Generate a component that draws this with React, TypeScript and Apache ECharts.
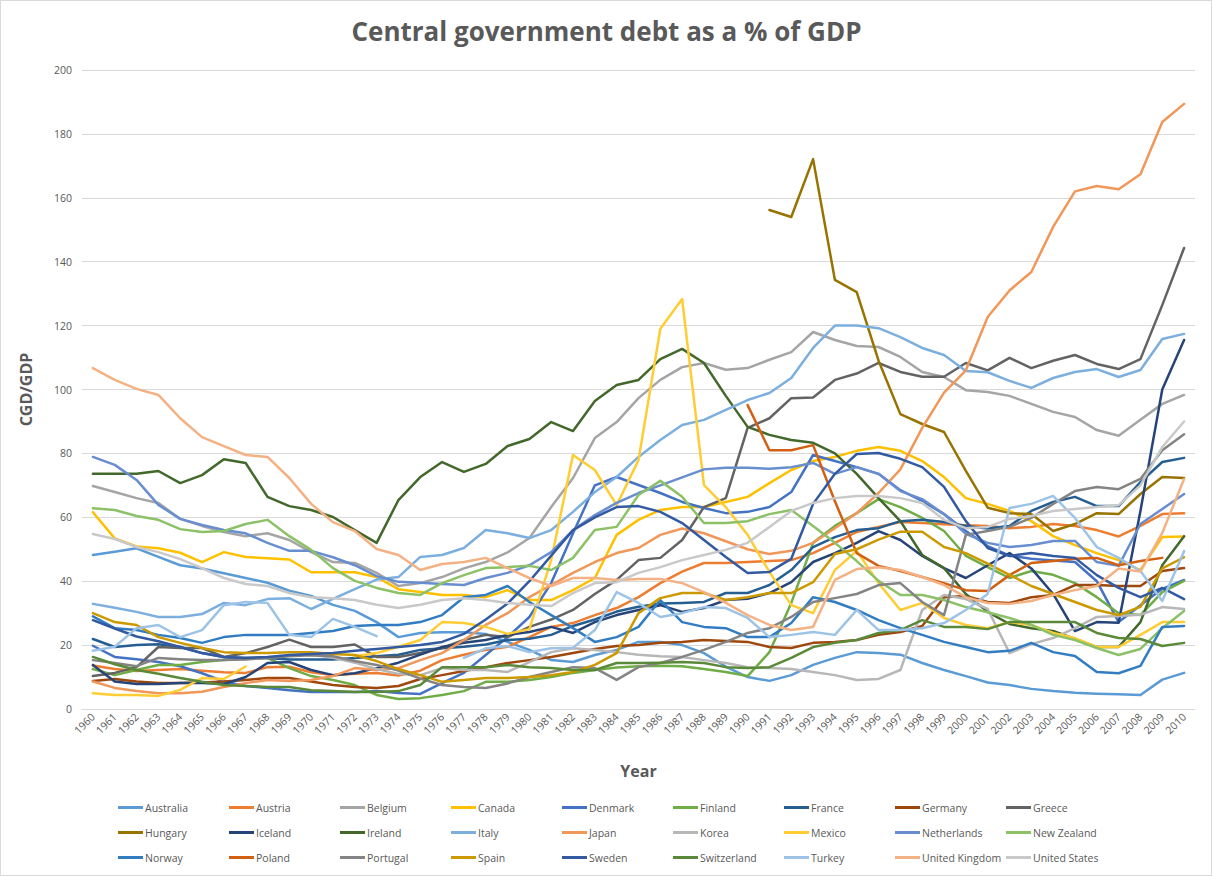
import React, { useEffect, useRef } from "react";
import * as echarts from "echarts";

const years = ["1960","1961","1962","1963","1964","1965","1966","1967","1968","1969","1970","1971","1972","1973","1974","1975","1976","1977","1978","1979","1980","1981","1982","1983","1984","1985","1986","1987","1988","1989","1990","1991","1992","1993","1994","1995","1996","1997","1998","1999","2000","2001","2002","2003","2004","2005","2006","2007","2008","2009","2010"];

const yTicks = [0, 20, 40, 60, 80, 100, 120, 140, 160, 180, 200];

const australia = [48.2,49.2,50.3,47.6,45,44,42.5,41,39.5,37,35.4,32.6,30.7,27.2,22.5,23.8,24,24,23.5,21,18.5,15.3,14.7,16.9,18.5,21,21,20,17.5,13.3,10,8.8,10.6,13.8,16,17.8,17.5,17,14.4,12.2,10.3,8.3,7.5,6.3,5.6,5.1,4.8,4.6,4.4,9.2,11.3];
const austria = [13.6,12.5,11.9,12.2,12.5,12,11.5,11.3,13.1,13.2,11.5,10.6,11,11.3,10.5,12,15.3,17,18.5,19.5,22.5,25.7,26.9,29.4,31.6,35,39.4,43,45.7,45.7,46,46.3,46.6,48.8,52,55.4,57,58.5,58.2,57.8,57.5,57.3,56.6,57,57.9,57.3,56,54,57.3,61,61.3];
const belgium = [69.8,67.9,66,64.5,59.5,57.3,55.4,54.1,55,52.9,49.1,46,45.7,42.6,38.5,39.4,41.3,44,46,49,53.5,63.2,72.3,84.8,89.8,97.3,103,107,108.3,106.2,106.7,109.3,111.7,118,115.5,113.6,113.3,110.2,105.5,103.9,99.8,99.2,98,95.5,93,91.4,87.3,85.5,90.5,95.5,98.3];
const canada = [61.6,53.4,50.9,50.3,48.9,46,49.1,47.6,47.2,46.8,42.8,42.8,42.8,41.3,37.5,36.6,35.7,35.7,35,37.2,34.1,34.1,37.2,41,54.5,59.2,62.3,63.2,63.2,64.8,66.4,70.7,74.8,77.6,78.9,80.8,82,80.8,77.6,72.6,66,64.2,62,58.8,54.1,51.3,48.8,46.6,43.5,53.8,54];
const denmark = [19.8,16.3,15.6,14.7,13.4,11.2,8.6,7.2,6.6,5.9,5.3,5.3,5.3,5.6,5,4.7,8.1,11.3,16.9,22.5,28.8,39.4,55,70,72.6,70.1,67.6,64.8,62.9,61.3,61.7,63.2,67.9,79.5,77.6,75.7,73.6,68.5,65.1,61,55.7,51,48,47,46.5,46,40,27.2,32.5,37.6,40.4];
const finland = [12.5,10.6,12.2,13.8,13.8,14.7,15.3,16,16,12.8,10.3,9.1,7.5,4.4,3.1,3.4,4.4,5.6,8.5,8.5,9.1,10,11.3,12.2,13,13.4,13.5,13.4,12.5,11.6,10.3,17.8,33.2,52,57.3,61.3,65.7,63.2,59.8,55.7,47.9,44.4,41,43.2,42,39.4,35,30,29.4,36.6,40.1];
const france = [21.9,19.4,20,20.3,19.4,17.5,16.3,16,16,15.5,15.5,15.5,16,16.5,17,18.5,19,19.5,20.2,21.6,22,23.2,26,28,30.5,32,33,33.2,33.5,36.3,36.3,38.8,43.5,50.7,53.8,56,56.6,58.8,59.2,58.5,57.3,56.5,57.3,62,64.8,66.4,63.5,63.5,71,77.3,78.6];
const germany = [8.8,9.4,8.6,8.1,8.1,8.3,8.6,9.1,9.7,9.7,8.6,7.5,6.9,6.6,7.2,9.4,10.6,11.9,13.1,14.4,15.3,16.3,17.5,18.8,19.7,20,20.7,21,21.6,21.3,21,19.4,19.1,20.7,21,21.6,23.2,24.1,26,35,35.4,33.5,33.2,35,35.7,38.8,38.8,38.5,38.5,43.2,44.1];
const greece = [10.3,11.3,13.1,19.4,19.1,19.1,16.3,17.5,19.4,21.7,19.4,19.4,20.2,16.3,16.3,17.5,19.1,21.6,23.2,22.5,25.7,28,31,36,40.4,46.6,47.3,52.9,63.2,66,88,91,97.3,97.5,103,105,108.3,105.5,104,104,108.3,106,109.9,106.7,109,110.8,108,106.4,109.5,126.4,144.3];
const hungary = [null,null,null,null,null,null,null,null,null,null,null,null,null,null,null,null,null,null,null,null,null,null,null,null,null,null,null,null,null,null,null,156.2,154,172.1,134.3,130.5,109,92.3,89.2,86.7,74.5,63,61.3,61,55.7,57.9,61.3,61,67.3,72.6,72.3];
const iceland = [13.8,8.6,7.8,7.8,8.1,8.1,7.8,10,14.4,14.7,12.2,10.6,11.2,12.8,14.5,17,19.4,20.7,21.6,23.2,24.1,25.7,23.8,27.2,29.4,31,32.5,30.4,31.6,34.1,34.5,36.3,39.7,46,48.8,52,55.7,52.9,47.9,44.1,41,45,48.8,44,36,24.4,27.2,27,62,100,115.5];
const ireland = [73.6,73.6,73.6,74.5,70.7,73.2,78.2,77,66.4,63.5,62.3,60.1,56,52,65.4,72.6,77.3,74.2,76.7,82.3,84.5,89.8,87,96.4,101.4,103,109.5,112.7,108.3,98,88.3,85.8,84.2,83.3,80,73.6,66,58.8,48.2,44.1,36,30.4,26.6,25.3,24.4,21.9,19.4,19.4,27.2,45,54.1];
const italy = [32.9,31.7,30.4,28.8,28.8,29.7,33.2,32.5,34.4,34.7,31.3,34.5,37.5,40.5,41.3,47.6,48.2,50.4,56,55,53.5,56,61.7,67.9,72.6,78.9,84.2,88.9,90.5,93.6,96.7,98.9,103.6,113,120,120,119.2,116.4,113,110.8,105.8,105.4,102.7,100.5,103.6,105.5,106.4,103.9,106.1,115.8,117.4];
const japan = [8.6,6.6,5.6,4.9,4.9,5.4,6.9,8.1,9.1,8.8,9.1,10.3,12.8,12.2,12.8,15.3,17.5,21.6,26.3,30,35,38.8,42.6,46,48.8,50.4,54.5,56.5,55,52.5,50,48.5,49.5,52,56.6,61.3,67.6,75,88,99,106,122.7,131,136.8,150.9,162,163.7,162.7,167.4,183.7,189.4];
const korea = [null,null,null,null,null,null,null,null,null,null,17,16,14.5,12.5,11,10.6,12.8,12.2,12.2,11.6,14.7,17.8,19,18.5,17.8,17,16.5,16.3,15.3,14.4,13.1,12.8,12.5,11.6,10.6,9.1,9.4,12.2,31,35.7,34.4,31.3,17.5,20.3,22.2,25.3,28.8,29.1,29.5,31.9,31.3];
const mexico = [4.9,4.4,4.4,4.1,6,9.7,9.4,13.3,null,null,null,null,16.5,17.5,19.5,21.6,27.2,26.9,25.7,23.5,25,46.6,79.5,74.8,63.8,77.9,119,128.3,70.1,63.2,54.5,42.9,32.5,30,43.5,49.5,39.4,31,33.2,28.5,26.3,25.3,27.2,26.3,23.8,22.2,19.4,19.4,23.2,27.2,27.2];
const netherlands = [78.9,76.4,71.7,63.9,59.5,57.6,56,55,52,49.5,49.5,47.5,45,41.6,39.8,39.5,39.1,38.8,41,42.6,45,49.1,56,60.7,64.5,67.6,70,72.5,75,75.5,75.5,75.2,75.7,77,73.6,75.7,73.6,68.2,65.7,61,54.8,52,50.7,51.3,52.6,52.6,46,44.8,57.9,62.6,67.3];
const newZealand = [62.8,62.3,60.4,59.2,56.3,55.4,55.7,57.9,59.2,54.1,49.8,44.1,40.1,37.9,36.3,35.7,39.4,41.9,44.1,44.4,44.8,43.5,47.3,56,57,67,71.4,66.4,58.2,58.2,58.8,61,62.3,57.3,52,46.3,40.1,35.7,35.7,34.1,31.9,30.3,28.5,26.3,23.2,21.6,19.1,16.9,18.8,25.3,30.7];
const norway = [29,25.3,24.7,23.2,22.2,20.7,22.5,23.2,23.2,23.2,23.8,24.4,26,26.3,26.3,27.2,29.4,35,35.7,38.5,33.5,29.4,25.3,21,22.5,25.7,34.1,27.2,25.7,25.3,22.5,22.5,26.9,35,33.5,31,27.8,25.3,23.2,21,19.4,17.8,18.2,20.7,17.8,16.6,11.6,11.2,13.5,25.7,26];
const poland = [null,null,null,null,null,null,null,null,null,null,null,null,null,null,null,null,null,null,null,null,null,null,null,null,null,null,null,null,null,null,95.1,81,81,82.6,65,48.8,44.8,43.2,41.3,39.4,37.2,36.9,41.9,45.7,46.3,47,47.3,45,46.3,47.3,null];
const portugal = [15.3,14.4,13.4,16,15.6,15.3,15.3,15.5,16,16.5,16.8,16.5,15,13.8,12,9.5,7.5,6.9,6.6,8,10,11.6,13.1,12.8,9.1,13.1,14.4,16.3,18.5,21,23.8,25.3,28.8,33.5,34.7,36,38.8,39.4,33.5,29.4,54.5,55.7,57,59.8,64.2,68.2,69.5,68.8,72,81,86];
const spain = [30,27.2,26.3,22.5,20.7,19.1,17.8,17.5,17.5,17.8,17.8,17.2,16.9,15,12.5,10.6,8.5,9.1,9.7,9.7,10,10.6,11.6,13.8,17.5,30,34.7,36.3,36.3,34.1,35,36.3,36.3,39.7,48.5,50,53,55.5,55.5,50.7,48.8,45.5,42,38.5,36,33.5,31,29.4,32,44,47.5];
const sweden = [27.8,25.2,22.7,21.2,19.4,17.5,16.3,16,16.3,16.9,17.2,17.5,18.2,18.8,19.4,20,21,23.5,28,33,40,48,56,60,63.2,63.5,61.7,58.2,52.9,47.6,42.6,42.9,47,64.2,73.6,79.8,80.1,78.3,75.7,69.5,58.8,50.4,47.9,48.8,47.9,47.3,41.9,37.9,35,37.9,34.4];
const switzerland = [16.3,14,12.2,11,9.7,8.5,7.5,7.2,6.9,6.9,5.9,5.6,5.3,5.3,5.6,7.5,13.1,13.1,13.1,13.8,13.1,12.8,12.2,12.2,14.4,14.4,14.5,14.7,14.4,13.1,12.8,13.1,16,19.4,20.7,21.6,23.8,24.7,27.8,25.7,25.7,25,27.2,27.2,27.2,27.2,23.8,22.2,21.9,19.7,20.7];
const turkey = [18.2,19.5,25.3,26.3,22.5,24.7,32.5,33.5,33.2,23.2,22.5,28.2,25.7,22.8,null,null,null,16,19,19.7,17.8,19,19.2,24.7,36.6,33.2,28.8,30,31.9,31.6,28.5,22.5,23.2,24.1,23.2,31,24.7,24.7,25.3,26.9,31,36,62.9,64.2,66.7,59.8,50.7,47.3,43.2,33.8,49.4];
const unitedKingdom = [106.7,103,100.2,98.3,91,85.1,82.3,79.5,78.9,72.3,64.2,58.5,55.7,50.1,48.2,43.5,45.4,46,47.3,44.1,41,38.5,41,41,40.4,40.7,40.7,39.4,36.6,33.2,29.4,26.3,24.7,25.7,40.4,43.8,44.4,43.5,41.3,38.8,35,33.2,32.9,33.8,35.7,37.2,38.5,44,43,55.1,72];
const unitedStates = [54.8,53.2,50.7,49.1,46.9,44.1,41,39.1,38.5,36.3,35,34.7,34.1,32.6,31.6,32.6,34.1,34.7,34.1,33.2,32.6,32.2,36.3,39.4,39.7,42.6,44.4,46.6,48.2,49.8,52,57,62,64.5,66,66.7,66.7,66,64.5,59.2,56.6,57,59.5,60.4,62,62.6,63.2,63.8,70,82,90];

const countryNames = ["Australia","Austria","Belgium","Canada","Denmark","Finland","France","Germany","Greece","Hungary","Iceland","Ireland","Italy","Japan","Korea","Mexico","Netherlands","New Zealand","Norway","Poland","Portugal","Spain","Sweden","Switzerland","Turkey","United Kingdom","United States"];
const countryColors = ["#5B9BD5","#ED7D31","#A5A5A5","#FFC000","#4472C4","#70AD47","#255E91","#9E480E","#636363","#997300","#264478","#43682B","#7CAFDD","#F1975A","#B7B7B7","#FFCD33","#698ED0","#8CC168","#327DC2","#D26012","#848484","#CC9A00","#335AA1","#5A8A39","#9DC3E6","#F4B183","#C9C9C9"];

export default function App() {
  const ref = useRef<HTMLDivElement>(null);
  useEffect(() => {
    document.body.style.margin = "0";
    const chart = echarts.init(ref.current as HTMLDivElement, null, { renderer: "svg" });
    const dataSets = [australia, austria, belgium, canada, denmark, finland, france, germany, greece, hungary, iceland, ireland, italy, japan, korea, mexico, netherlands, newZealand, norway, poland, portugal, spain, sweden, switzerland, turkey, unitedKingdom, unitedStates];
    const series = countryNames.map((name, i) => ({
      name,
      type: "line",
      data: dataSets[i],
      symbol: "none",
      showSymbol: false,
      connectNulls: false,
      lineStyle: { width: 2.5, color: countryColors[i], cap: "round", join: "round" },
      itemStyle: { color: countryColors[i] },
      emphasis: { disabled: true },
    }));
    const legendCols = [113, 224, 335, 446, 557, 668, 779, 890, 1001];
    const legendRows = [808, 833, 858];
    const legends = countryNames.map((name, i) => ({
      data: [{ name, icon: "rect", itemStyle: { color: countryColors[i] } }],
      left: legendCols[i % 9],
      top: legendRows[Math.floor(i / 9)] - 11,
      itemWidth: 25,
      itemHeight: 3,
      selectedMode: false,
      textStyle: { fontFamily: "Open Sans", fontSize: 10.5, color: "#595959", padding: [0, 0, 0, -3] },
    }));
    chart.setOption({
      animation: false,
      backgroundColor: "#ffffff",
      title: {
        text: "Central government debt as a % of GDP",
        left: "center",
        top: 13,
        textStyle: { fontFamily: "Open Sans", fontWeight: "bold", fontSize: 26, color: "#595959" },
      },
      legend: legends,
      grid: { left: 82, right: 18, top: 70, bottom: 168, containLabel: false },
      xAxis: {
        type: "category",
        data: years,
        boundaryGap: true,
        name: "Year",
        nameLocation: "middle",
        nameGap: 54,
        nameTextStyle: { fontFamily: "Open Sans", fontWeight: "bold", fontSize: 16, color: "#595959" },
        axisLine: { lineStyle: { color: "#D9D9D9", width: 1 } },
        axisTick: { show: false },
        axisLabel: { interval: 0, rotate: 45, fontFamily: "Open Sans", fontSize: 10.5, color: "#595959", margin: 6 },
        splitLine: { show: false },
      },
      yAxis: {
        type: "value",
        min: yTicks[0],
        max: yTicks[yTicks.length - 1],
        interval: 20,
        name: "CGD/GDP",
        nameLocation: "middle",
        nameGap: 48,
        nameTextStyle: { fontFamily: "Open Sans", fontWeight: "bold", fontSize: 16, color: "#595959" },
        axisLine: { show: false },
        axisTick: { show: false },
        axisLabel: { fontFamily: "Open Sans", fontSize: 10.5, color: "#595959", margin: 10 },
        splitLine: { lineStyle: { color: "#D9D9D9", width: 1 } },
      },
      graphic: [
        { type: "rect", shape: { x: 0.5, y: 0.5, width: 1211, height: 875 }, style: { fill: "none", stroke: "#D9D9D9", lineWidth: 1 }, silent: true, z: -10 },
      ],
      series,
    });
    return () => chart.dispose();
  }, []);
  return <div ref={ref} style={{ width: 1213, height: 877 }} />;
}
